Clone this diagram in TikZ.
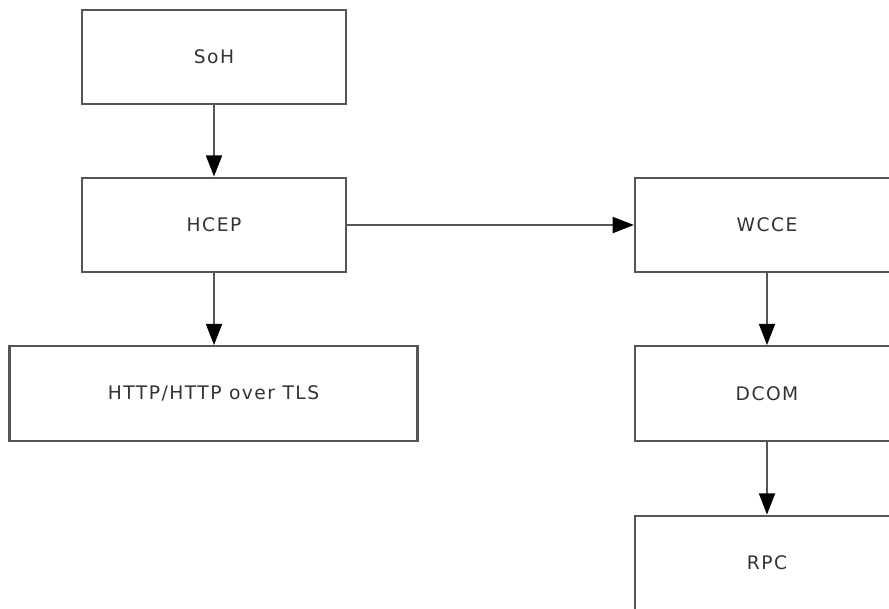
\documentclass[tikz,border=0pt]{standalone}
\usepackage{fontspec}
\setmainfont{DejaVu Sans}[LetterSpace=8]
\usetikzlibrary{arrows.meta}
\definecolor{boxline}{RGB}{85,85,85}
\tikzset{
  layer/.style={draw=boxline, line width=1.6pt, minimum width=198pt, minimum height=71pt, inner sep=0pt, text=black!80, font=\fontsize{14}{16}\selectfont},
  flow/.style={draw=boxline, line width=1.6pt, -{Triangle[length=16pt,width=12pt,color=black]}}
}
\begin{document}
\begin{tikzpicture}[x=0.75pt,y=0.75pt,yscale=-1,xscale=1]
\useasboundingbox (0,0) rectangle (889,608);

% Text Node
\node [layer] (soh) at (214,57) {SoH};
% Text Node
\node [layer] (hcep) at (214,225) {HCEP};
% Text Node
\node [layer, minimum width=306pt] (http) at (213.5,393.5) {HTTP/HTTP over TLS};
% Text Node
\node [layer] (wcce) at (767,225) {WCCE};
% Text Node
\node [layer] (dcom) at (767,393.5) {DCOM};
% Text Node
\node [layer] (rpc) at (767,563) {RPC};

% Straight Lines
\draw [flow] (soh) -- (hcep);
\draw [flow] (hcep) -- (http.north -| hcep);
\draw [flow] (hcep) -- (wcce);
\draw [flow] (wcce) -- (dcom);
\draw [flow] (dcom) -- (rpc);

\end{tikzpicture}
\end{document}
